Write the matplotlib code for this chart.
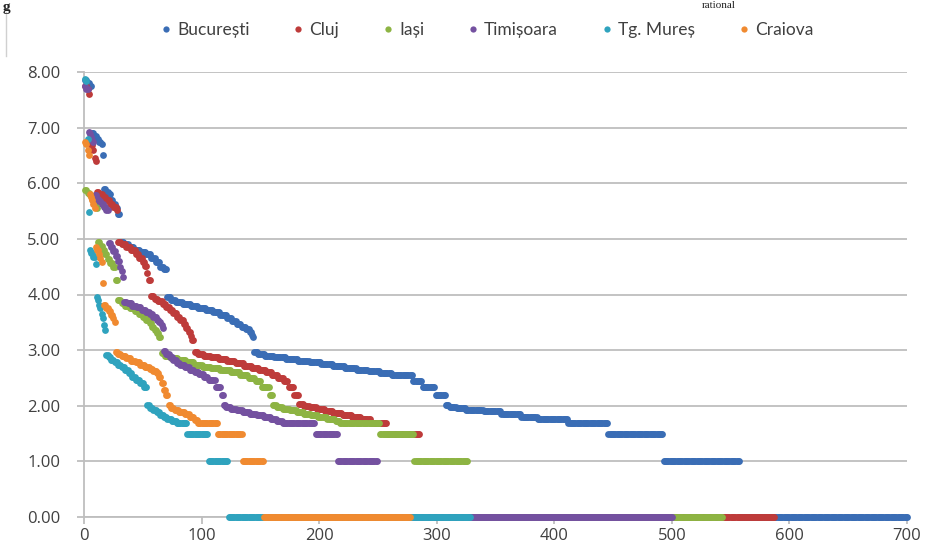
import numpy as np
import matplotlib
matplotlib.use("Agg")
import matplotlib.pyplot as plt
from matplotlib.lines import Line2D

# ---------------- data (sorted values, run-length encoded: value, count) ----------------
series_names = ["București", "Cluj", "Iași", "Timișoara", "Tg. Mureș", "Craiova"]

buc_values = [7.85, 7.8, 7.75,
              6.9, 6.85, 6.8, 6.75, 6.7, 6.5,
              5.9, 5.85, 5.8, 5.7, 5.62, 5.55, 5.45,
              4.95, 4.9, 4.85, 4.8, 4.77, 4.72, 4.65, 4.58, 4.5, 4.45,
              3.95, 3.9, 3.87, 3.83, 3.8, 3.76, 3.72, 3.68, 3.63, 3.58, 3.53, 3.47, 3.42, 3.38, 3.33, 3.28, 3.24,
              2.97, 2.93, 2.9, 2.87, 2.84, 2.81, 2.78, 2.75, 2.72, 2.68, 2.65, 2.62, 2.58, 2.55, 2.45, 2.34, 2.19,
              2.01, 1.98, 1.96,
              1.93, 1.9, 1.85, 1.8, 1.76, 1.69, 1.5, 1.0, 0.0]
buc_counts = [2, 2, 2,
              2, 2, 2, 2, 1, 1,
              2, 2, 2, 2, 2, 2, 2,
              3, 4, 5, 5, 5, 4, 4, 4, 3, 3,
              3, 4, 6, 7, 6, 7, 6, 6, 6, 4, 4, 4, 4, 3, 2, 1, 1,
              3, 6, 8, 10, 10, 10, 10, 10, 10, 10, 10, 10, 10, 18, 8, 11, 9,
              3, 6, 8,
              15, 15, 17, 14, 26, 34, 47, 65, 143]

cluj_values = [7.75, 7.7, 7.6,
               6.75, 6.68, 6.6, 6.45, 6.4,
               5.85, 5.8, 5.75, 5.7, 5.63, 5.58, 5.52,
               4.95, 4.9, 4.85, 4.8, 4.72, 4.65, 4.58, 4.52, 4.39, 4.26,
               3.97, 3.92, 3.88, 3.83, 3.77, 3.72, 3.66, 3.6, 3.54, 3.47, 3.4, 3.33, 3.25, 3.18,
               2.97, 2.93, 2.9, 2.87, 2.84, 2.8, 2.76, 2.72, 2.68, 2.64, 2.6, 2.55, 2.5, 2.45, 2.34, 2.19,
               2.03, 2.0, 1.97, 1.94, 1.9, 1.87, 1.84, 1.8, 1.77, 1.69, 1.5, 0.0]
cluj_counts = [2, 1, 1,
               1, 2, 1, 1, 1,
               2, 3, 3, 3, 3, 3, 1,
               3, 4, 4, 4, 3, 3, 2, 2, 1, 2,
               3, 3, 4, 3, 3, 3, 3, 3, 3, 2, 2, 2, 1, 2,
               3, 5, 6, 7, 7, 7, 7, 7, 6, 6, 5, 5, 5, 4, 5, 4,
               4, 5, 6, 7, 7, 8, 8, 8, 8, 14, 28, 302]

iasi_values = [5.88, 5.83, 5.78, 5.72, 5.65, 5.6, 5.55,
               4.95, 4.88, 4.8, 4.72, 4.64, 4.56, 4.5, 4.26,
               3.9, 3.85, 3.8, 3.75, 3.7, 3.65, 3.6, 3.55, 3.48, 3.42, 3.36, 3.3, 3.24,
               2.95, 2.9, 2.86, 2.82, 2.78, 2.74, 2.7, 2.67, 2.64, 2.6, 2.55, 2.5, 2.45, 2.34, 2.19,
               2.01, 1.98, 1.95, 1.92, 1.89, 1.86, 1.83, 1.8, 1.76, 1.72, 1.69, 1.5, 1.0, 0.0]
iasi_counts = [2, 2, 2, 2, 1, 1, 1,
               2, 2, 2, 2, 2, 3, 2, 2,
               3, 3, 4, 4, 4, 3, 3, 3, 2, 2, 2, 2, 2,
               3, 5, 6, 7, 7, 7, 7, 8, 9, 8, 7, 6, 5, 7, 3,
               3, 5, 6, 6, 6, 6, 6, 8, 7, 4, 34, 29, 46, 217]

tim_values = [7.75, 7.7,
              6.92, 6.88, 6.83, 6.78, 6.75,
              5.78, 5.72, 5.68, 5.63, 5.58, 5.52,
              4.92, 4.85, 4.78, 4.7, 4.6, 4.5, 4.42, 4.32,
              3.87, 3.84, 3.8, 3.77, 3.73, 3.69, 3.65, 3.6, 3.55, 3.5, 3.45, 3.4,
              2.98, 2.93, 2.88, 2.82, 2.77, 2.73, 2.69, 2.65, 2.61, 2.57, 2.52, 2.46, 2.34, 2.19,
              2.01, 1.98, 1.95, 1.92, 1.89, 1.86, 1.83, 1.8, 1.76, 1.72, 1.69, 1.5, 1.0, 0.0]
tim_counts = [1, 2,
              1, 1, 1, 1, 1,
              2, 2, 2, 2, 2, 2,
              2, 2, 2, 2, 2, 1, 1, 1,
              3, 4, 4, 4, 4, 3, 3, 3, 2, 2, 1, 1,
              2, 3, 3, 3, 3, 4, 4, 4, 4, 4, 4, 6, 5, 2,
              2, 4, 5, 5, 6, 6, 6, 6, 5, 5, 28, 19, 34, 251]

tgm_values = [7.88, 7.83,
              6.8,
              5.48,
              4.8, 4.75, 4.68, 4.55,
              3.96, 3.9, 3.82, 3.75, 3.65, 3.58, 3.45, 3.36,
              2.91, 2.87, 2.83, 2.79, 2.74, 2.7, 2.64, 2.58, 2.52, 2.46, 2.41, 2.34,
              2.01, 1.96, 1.92, 1.88, 1.84, 1.8, 1.76, 1.72, 1.69, 1.5, 1.0, 0.0]
tgm_counts = [1, 1,
              1,
              1,
              1, 2, 2, 1,
              1, 1, 1, 1, 1, 1, 1, 1,
              2, 2, 3, 3, 3, 3, 3, 3, 3, 4, 3, 3,
              2, 3, 3, 3, 3, 3, 4, 4, 9, 18, 17, 206]

cra_values = [6.75, 6.7, 6.6, 6.5,
              5.8, 5.75, 5.7, 5.62, 5.55,
              4.85, 4.8, 4.72, 4.65, 4.58, 4.2,
              3.81, 3.76, 3.7, 3.64, 3.57, 3.5,
              2.97, 2.93, 2.89, 2.85, 2.81, 2.78, 2.74, 2.7, 2.66, 2.62, 2.58, 2.52, 2.41, 2.28, 2.19,
              2.01, 1.96, 1.92, 1.89, 1.85, 1.8, 1.75, 1.69, 1.5, 1.0, 0.0]
cra_counts = [1, 1, 1, 1,
              1, 1, 1, 1, 1,
              1, 2, 1, 1, 1, 1,
              2, 2, 2, 2, 1, 1,
              2, 3, 4, 4, 4, 4, 4, 4, 3, 3, 2, 2, 2, 2, 2,
              2, 3, 4, 5, 4, 4, 3, 17, 21, 18, 125]

colors = ["#3A6DB5", "#BE3B3A", "#8DB443", "#7451A0", "#2FA3BE", "#F08A30"]

x_ticks = [0, 100, 200, 300, 400, 500, 600, 700]
y_ticks = [0, 1, 2, 3, 4, 5, 6, 7, 8]

all_series = [(buc_values, buc_counts), (cluj_values, cluj_counts), (iasi_values, iasi_counts),
              (tim_values, tim_counts), (tgm_values, tgm_counts), (cra_values, cra_counts)]

# ---------------- figure ----------------
W, H = 926, 552
fig = plt.figure(figsize=(W / 100, H / 100), dpi=100)
plt.rcParams['font.family'] = ['Open Sans', 'DejaVu Sans']
text_col = "#404040"
grid_col = "#BEBEBE"

ax = fig.add_axes([84 / W, 35 / H, (907 - 84) / W, (517 - 72) / H])

for (vals, cnts), name, col in zip(all_series, series_names, colors):
    y = np.repeat(vals, cnts)
    x = np.arange(1, len(y) + 1)
    ax.scatter(x, y, s=24, color=col, linewidths=0, clip_on=False, zorder=3, label=name)

ax.set_xlim(0, 700)
ax.set_ylim(0, 8)
ax.set_xticks(x_ticks)
ax.set_yticks(y_ticks)
ax.set_yticklabels([f"{v:.2f}" for v in y_ticks])
ax.grid(axis='y', color=grid_col, linewidth=1.3, zorder=0)
ax.set_axisbelow(True)
for s in ['top', 'right']:
    ax.spines[s].set_visible(False)
for s in ['left', 'bottom']:
    ax.spines[s].set_color(grid_col)
    ax.spines[s].set_linewidth(1.3)
ax.tick_params(axis='y', length=5, width=1.3, color=grid_col, pad=12, labelsize=12, labelcolor=text_col)
ax.tick_params(axis='x', length=5, width=1.3, color=grid_col, pad=3, labelsize=12, labelcolor=text_col)

handles = [Line2D([0], [0], marker='o', linestyle='none', markersize=4.5, markerfacecolor=c,
                  markeredgewidth=0) for c in colors]
fig.legend(handles, series_names, loc='center', bbox_to_anchor=(0.524, 0.945), ncol=6,
           frameon=False, prop={'family': ['Lato', 'DejaVu Sans'], 'size': 12.5},
           labelcolor=text_col, handletextpad=0.15, columnspacing=2.3, handlelength=1.0)

# fragments of surrounding page text (kept fully inside the figure)
fig.text(0.003, 0.999, "g", fontsize=11, family="Liberation Serif", fontweight='bold',
         color="#222222", va='top', ha='left')
fig.text(0.776, 0.999, "rational", fontsize=8, family="Liberation Serif",
         color="#222222", va='top', ha='center')
fig.add_artist(Line2D([6 / W, 6 / W], [1 - 12 / H, 1 - 56 / H], color="#D0D0D0", linewidth=1))

fig.savefig("out.png", dpi=100)
